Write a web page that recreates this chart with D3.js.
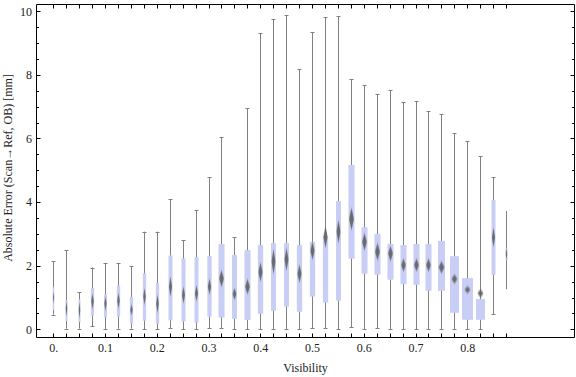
<!DOCTYPE html>
<html><head><meta charset="utf-8">
<script src="https://cdn.jsdelivr.net/npm/d3@7"></script>
<style>html,body{margin:0;padding:0;background:#fff;} svg{display:block;}</style>
</head><body>
<svg id="chart" width="576" height="377"></svg>
<script>
// ---- data ----
const categories = [0,0.025,0.05,0.075,0.1,0.125,0.15,0.175,0.2,0.225,0.25,0.275,0.3,0.325,0.35,0.375,0.4,0.425,0.45,0.475,0.5,0.525,0.55,0.575,0.6,0.625,0.65,0.675,0.7,0.725,0.75,0.775,0.8,0.825,0.85,0.875];
const whiskerLow  = [0.46,0.02,0.02,0.10,0.01,0.02,0.02,0.00,0.00,0.03,0.00,0.00,0.03,0.04,0.00,0.00,0.01,0.00,0.00,0.00,0.03,0.03,0.00,0.06,0.00,0.03,0.00,0.00,0.00,0.00,0.00,0.00,0.00,0.00,0.47,1.26];
const quart1      = [0.61,0.26,0.23,0.43,0.38,0.40,0.18,0.27,0.18,0.28,0.25,0.21,0.40,0.37,0.33,0.29,0.49,0.58,0.71,0.55,1.03,0.84,0.90,2.22,1.75,1.72,1.56,1.42,1.40,1.21,1.21,0.52,0.30,0.30,1.71,2.17];
const medians     = [1.00,0.65,0.60,0.88,0.81,0.90,0.61,1.03,0.80,1.34,1.08,1.13,1.34,1.60,1.11,1.34,1.80,2.13,2.20,1.75,2.47,2.91,3.07,3.47,2.75,2.44,2.38,2.02,2.02,2.02,1.95,1.58,1.24,1.13,2.89,2.37];
const quart3      = [1.32,0.92,0.94,1.30,1.10,1.38,1.02,1.76,1.45,2.32,2.23,2.27,2.30,2.68,2.34,2.49,2.65,2.71,2.71,2.65,2.75,2.93,4.03,5.17,3.21,3.00,2.68,2.65,2.68,2.68,2.78,2.30,1.61,0.95,4.07,2.55];
const whiskerHigh = [2.15,2.48,1.16,1.94,2.08,2.08,1.98,3.07,3.07,4.09,2.80,3.74,4.78,6.05,2.89,6.95,9.31,9.75,9.87,8.18,9.34,9.81,9.85,7.86,7.67,7.39,7.52,7.14,7.17,6.86,6.76,6.16,5.91,5.45,4.78,3.72];
const medianCI    = [0.19,0.24,0.26,0.24,0.21,0.24,0.16,0.26,0.29,0.31,0.26,0.25,0.24,0.26,0.18,0.24,0.30,0.39,0.36,0.28,0.28,0.35,0.36,0.35,0.27,0.27,0.24,0.20,0.20,0.20,0.19,0.14,0.11,0.13,0.30,0.19];
const boxWeight   = [0.14,0.18,0.18,0.30,0.27,0.30,0.30,0.30,0.30,0.36,0.36,0.36,0.39,0.55,0.45,0.55,0.48,0.45,0.45,0.48,0.48,0.48,0.45,0.55,0.55,0.55,0.55,0.55,0.55,0.55,0.64,0.82,1.00,0.82,0.36,0.18];
const xTickValues = [0,0.1,0.2,0.3,0.4,0.5,0.6,0.7,0.8];
const xTickLabels = ["0.","0.1","0.2","0.3","0.4","0.5","0.6","0.7","0.8"];
const yTickValues = [0,2,4,6,8,10];
const yTickLabels = ["0","2","4","6","8","10"];
const xTitle = "Visibility";
const yTitle = "Absolute Error (Scan\u2192Ref, OB) [mm]";

// ---- layout ----
const L = 36.5, R = 574.5, T = 4.5, B = 337.5;
const x = d3.scaleLinear().domain([-0.0315, 1.0081]).range([37, 575]);
const y = d3.scaleLinear().domain([-0.242, 10.22]).range([337, 4.3]);
const wScale = d3.scaleLinear().domain([0, 1]).range([0, 11]);
const font = "'Liberation Serif','Times New Roman',serif";

const svg = d3.select("#chart");
const defs = svg.append("defs");
defs.append("filter").attr("id","soft").attr("x","-100%").attr("y","-50%").attr("width","300%").attr("height","200%")
  .append("feGaussianBlur").attr("stdDeviation", "0.6 1.2");

const data = categories.map((c,i)=>({c, lo:whiskerLow[i], q1:quart1[i], med:medians[i], q3:quart3[i], hi:whiskerHigh[i], ci:medianCI[i], w:wScale(boxWeight[i]), last: i===categories.length-1}));

const g = svg.append("g");
const px = d => Math.round(x(d.c)) + 0.5;

// whiskers
g.selectAll("line.wh").data(data).join("line").attr("class","wh")
  .attr("x1", px).attr("x2", px)
  .attr("y1", d=>y(d.lo)).attr("y2", d=>y(d.hi))
  .attr("stroke","#808080").attr("stroke-width",1);
// caps
const caps = data.filter(d=>!d.last).flatMap(d=>[{d,v:d.lo},{d,v:d.hi}]);
g.selectAll("line.cap").data(caps).join("line").attr("class","cap")
  .attr("x1", e=>px(e.d)-2).attr("x2", e=>px(e.d)+2)
  .attr("y1", e=>Math.round(y(e.v))+0.5).attr("y2", e=>Math.round(y(e.v))+0.5)
  .attr("stroke","#808080").attr("stroke-width",1);
// boxes
g.selectAll("rect.box").data(data).join("rect").attr("class","box")
  .attr("x", d=>px(d)-d.w/2).attr("width", d=>d.w)
  .attr("y", d=>y(Math.max(d.q1, d.q3))).attr("height", d=>Math.abs(y(d.q1)-y(d.q3)))
  .attr("fill","#c8cef5");
// median notches (diamonds)
g.selectAll("path.med").data(data).join("path").attr("class","med")
  .attr("d", d=>{
    const cx = px(d), cy = y(d.med), hw = Math.min(d.w*0.8, 6)/2;
    const t = y(d.med + d.ci), b = y(d.med - d.ci);
    return `M${cx},${t}L${cx+hw},${cy}L${cx},${b}L${cx-hw},${cy}Z`;
  })
  .attr("fill","#666").attr("opacity",0.95).attr("filter","url(#soft)");

// ---- frame & axes ----
const fr = svg.append("g").attr("stroke","#000").attr("stroke-width",1).attr("fill","none");
fr.append("line").attr("x1",L).attr("x2",R).attr("y1",B).attr("y2",B);
fr.append("line").attr("x1",L).attr("x2",R).attr("y1",T).attr("y2",T);
fr.append("line").attr("x1",L).attr("x2",L).attr("y1",T).attr("y2",B);
fr.append("line").attr("x1",R).attr("x2",R).attr("y1",T).attr("y2",B);

// category ticks bottom & top
const catTickX = c => Math.round(x(c)) + 0.5;
svg.append("g").selectAll("line").data(categories).join("line")
  .attr("x1",catTickX).attr("x2",catTickX).attr("y1",B).attr("y2",B-4).attr("stroke","#000");
svg.append("g").selectAll("line").data(categories).join("line")
  .attr("x1",catTickX).attr("x2",catTickX).attr("y1",T).attr("y2",T+4).attr("stroke","#000");

// y ticks both sides
const minorY = d3.range(0, 10.01, 0.5).filter(v=>yTickValues.indexOf(v)<0);
const yt = v => Math.round(y(v)) + 0.5;
const yg = svg.append("g").attr("stroke","#000");
yTickValues.forEach(v=>{
  yg.append("line").attr("x1",L).attr("x2",L+4).attr("y1",yt(v)).attr("y2",yt(v));
  yg.append("line").attr("x1",R).attr("x2",R-4).attr("y1",yt(v)).attr("y2",yt(v));
});
minorY.forEach(v=>{
  yg.append("line").attr("x1",L).attr("x2",L+2.5).attr("y1",yt(v)).attr("y2",yt(v));
  yg.append("line").attr("x1",R).attr("x2",R-2.5).attr("y1",yt(v)).attr("y2",yt(v));
});

// tick labels via d3 axes
const xAxis = d3.axisBottom(x).tickValues(xTickValues).tickSize(0).tickPadding(6)
  .tickFormat((d,i)=>xTickLabels[i]);
const xa = svg.append("g").attr("transform",`translate(0,${B})`).call(xAxis);
xa.select(".domain").remove();
xa.selectAll("text").attr("font-family",font).attr("font-size",12).attr("fill","#222");

const yAxis = d3.axisLeft(y).tickValues(yTickValues).tickSize(0).tickPadding(4.5)
  .tickFormat((d,i)=>yTickLabels[i]);
const ya = svg.append("g").attr("transform",`translate(${L},0)`).call(yAxis);
ya.select(".domain").remove();
ya.selectAll("text").attr("font-family",font).attr("font-size",12).attr("fill","#222");

// titles
svg.append("text").attr("x",(L+R)/2).attr("y",372).attr("text-anchor","middle")
  .attr("font-family",font).attr("font-size",12).attr("fill","#222").text(xTitle);
svg.append("text").attr("transform",`translate(12,${168}) rotate(-90)`).attr("text-anchor","middle")
  .attr("font-family",font).attr("font-size",12).attr("fill","#222").text(yTitle);
</script>
</body></html>
